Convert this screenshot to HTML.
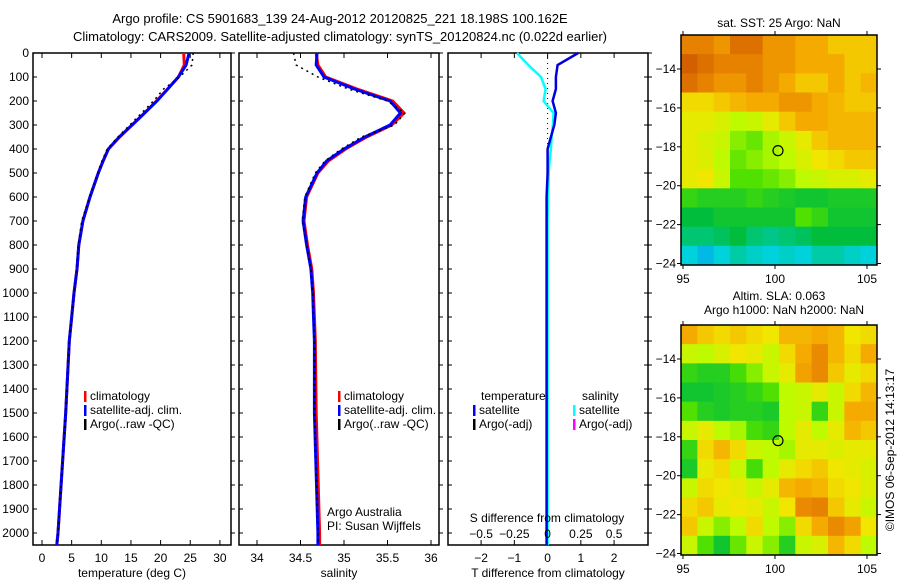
<!DOCTYPE html>
<html><head><meta charset="utf-8"><style>
body{margin:0;background:#fff}
svg{display:block;font-family:"Liberation Sans",sans-serif;font-size:12px}
</style></head><body>
<svg id="c" width="900" height="580" viewBox="0 0 900 580">
<text x="340" y="23" text-anchor="middle" font-size="13">Argo profile: CS 5901683_139 24-Aug-2012 20120825_221 18.198S 100.162E</text>
<text x="340" y="41" text-anchor="middle" font-size="13">Climatology: CARS2009. Satellite-adjusted climatology: synTS_20120824.nc (0.022d earlier)</text>
</svg>
<script>
const depths=[0,50,100,150,200,250,300,350,400,450,500,600,700,800,900,1000,1100,1200,1500,2000,2050];
const tempClim=[23.9,24.0,23.0,21.2,19.3,17.3,15.2,13.1,11.2,10.3,9.5,8.1,6.9,6.2,5.9,5.4,5.0,4.6,4.0,2.7,2.5];
const tempSat=[24.8,24.3,23.0,21.2,19.4,17.3,15.2,13.0,11.2,10.3,9.5,8.1,6.9,6.2,5.9,5.4,5.0,4.6,4.0,2.7,2.5];
const tempArgo=[25.5,25.3,23.2,20.5,18.8,16.8,14.8,12.8,11.0,10.1,9.4,8.0,6.7,6.1,5.9,5.4,5.0,4.6,4.0,2.7,2.5];
const salClim=[34.68,34.7,34.79,35.15,35.56,35.69,35.55,35.26,35.02,34.82,34.7,34.57,34.54,34.58,34.63,34.65,34.66,34.67,34.68,34.72,34.72];
const salSat=[34.69,34.68,34.77,35.12,35.53,35.65,35.53,35.24,35.0,34.8,34.69,34.56,34.53,34.57,34.62,34.64,34.65,34.66,34.66,34.7,34.7];
const salArgo=[34.42,34.45,34.7,35.05,35.5,35.7,35.58,35.2,34.97,34.78,34.67,34.55,34.52,34.57,34.62,34.64,34.65,34.66,34.66,34.7,34.7];
const tDiff=[0.92,0.3,0.25,0.25,0.15,0.25,0.2,0.1,0,0,0,-0.03,-0.03,-0.03,-0.03,-0.03,-0.03,-0.03,-0.03,-0.03,-0.03];
const sDiff=[-0.23,-0.145,-0.05,-0.015,-0.03,0.045,0.04,0.03,0.025,0.015,0.008,0.004,0,0,0,0,0,0,0,0,0];
const depthTicks=[0,100,200,300,400,500,600,700,800,900,1000,1100,1200,1300,1400,1500,1600,1700,1800,1900,2000];
const tempTicks=[0,5,10,15,20,25,30];
const salTicks=[34,34.5,35,35.5,36];
const tdTicks=[-2,-1,0,1,2];
const sdTicks=[-0.5,-0.25,0,0.25,0.5];
const latTicks=[-14,-16,-18,-20,-22,-24];
const lonTicks=[95,100,105];
const sstGrid=[
[.9,.9,.85,.95,.95,.85,.85,.8,.8,.75,.75,.75],
[1,.95,.9,.9,.9,.85,.85,.8,.8,.8,.75,.75],
[.95,.9,.85,.85,.9,.85,.8,.75,.75,.8,.75,.78],
[.72,.72,.75,.78,.8,.8,.85,.85,.8,.78,.75,.75],
[.68,.68,.65,.6,.62,.68,.75,.8,.8,.78,.78,.78],
[.68,.65,.62,.55,.52,.58,.62,.68,.75,.78,.78,.78],
[.68,.66,.6,.52,.55,.58,.6,.65,.7,.72,.75,.75],
[.68,.7,.62,.5,.5,.52,.55,.6,.62,.65,.65,.68],
[.45,.42,.42,.42,.45,.42,.4,.38,.38,.4,.4,.4],
[.35,.35,.38,.38,.38,.38,.38,.5,.45,.38,.38,.38],
[.3,.3,.32,.35,.3,.28,.3,.32,.35,.35,.35,.35],
[.2,.15,.2,.25,.22,.2,.22,.2,.25,.25,.22,.2]];
const slaGrid=[
[.8,.75,.72,.75,.72,.7,.78,.78,.8,.78,.7,.72],
[.62,.6,.65,.7,.68,.62,.72,.8,.88,.78,.72,.8],
[.45,.42,.42,.48,.55,.62,.68,.82,.88,.75,.68,.72],
[.38,.38,.4,.42,.45,.5,.6,.62,.68,.62,.72,.78],
[.5,.42,.4,.42,.42,.4,.6,.62,.45,.62,.8,.8],
[.62,.68,.6,.58,.48,.45,.6,.68,.6,.68,.78,.75],
[.45,.72,.78,.72,.62,.6,.58,.68,.68,.66,.68,.68],
[.4,.68,.72,.62,.48,.6,.68,.72,.75,.7,.68,.65],
[.62,.72,.7,.68,.62,.68,.78,.8,.78,.72,.7,.66],
[.72,.75,.68,.7,.68,.62,.7,.88,.9,.75,.68,.62],
[.75,.62,.55,.6,.72,.6,.55,.72,.8,.88,.82,.7],
[.62,.5,.38,.52,.62,.55,.42,.62,.65,.78,.72,.6]];

const svg=document.getElementById('c');const NS='http://www.w3.org/2000/svg';
function mk(t,a,txt){const e=document.createElementNS(NS,t);for(const k in a)e.setAttribute(k,a[k]);if(txt!==undefined)e.textContent=txt;svg.appendChild(e);return e;}
const Y=d=>53+d*0.24;
const TOP=53,BOT=545;
const panels=[
 {l:33,r:231,x:v=>42+v*5.93,ticks:tempTicks,label:'temperature (deg C)',name:'temperature'},
 {l:239,r:439,x:v=>257+(v-34)*87,ticks:salTicks,label:'salinity',name:'salinity'},
 {l:448,r:648,x:v=>547.6+v*33.25,ticks:tdTicks,label:'T difference from climatology',name:'difference'}];
panels.forEach((p,i)=>{
 let e=mk('rect',{x:p.l,y:TOP,width:p.r-p.l,height:BOT-TOP,fill:'none',stroke:'#000','stroke-width':1.5});
 
 depthTicks.forEach(d=>{mk('line',{x1:p.l,x2:p.l+4,y1:Y(d),y2:Y(d),stroke:'#000'});mk('line',{x1:p.r,x2:p.r+(i==2?-4:4),y1:Y(d),y2:Y(d),stroke:'#000'});
  if(i==0){e=mk('text',{x:29,y:Y(d)+4,'text-anchor':'end'},d);}});
 p.ticks.forEach(t=>{const x=p.x(t);mk('line',{x1:x,x2:x,y1:TOP,y2:TOP+5,stroke:'#000'});mk('line',{x1:x,x2:x,y1:BOT,y2:BOT-5,stroke:'#000'});
  e=mk('text',{x:x,y:562,'text-anchor':'middle'},String(t).replace('-','\u2212'));});
 e=mk('text',{x:(p.l+p.r)/2,y:577,'text-anchor':'middle'},p.label);
});
depthTicks.forEach(d=>mk('line',{x1:648,x2:652,y1:Y(d),y2:Y(d),stroke:'#000'}));
function line(vals,xf,color,w,dash,name){const pts=vals.map((v,i)=>xf(v).toFixed(1)+','+Y(depths[i]).toFixed(1)).join(' ');
 const a={points:pts,fill:'none',stroke:color,'stroke-width':w};if(dash)a['stroke-dasharray']=dash;const e=mk('polyline',a);
 }
const P=panels;
line(tempClim,P[0].x,'#f00',3,null,'temperature-climatology-line');
line(tempSat,P[0].x,'#00f',3,null,'temperature-satellite-line');
line(tempArgo,P[0].x,'#000',1.5,'2,4','temperature-argo-line');
line(salClim,P[1].x,'#f00',3,null,'salinity-climatology-line');
line(salSat,P[1].x,'#00f',3,null,'salinity-satellite-line');
line(salArgo,P[1].x,'#000',1.5,'2,4','salinity-argo-line');
mk('line',{x1:547.6,x2:547.6,y1:TOP,y2:BOT,stroke:'#000','stroke-dasharray':'1,4'});
line(sDiff,v=>P[2].x(v*4),'#0ff',2.5,null,'salinity-difference-line');
line(tDiff,P[2].x,'#00d',2.5,null,'temperature-difference-line');
let e=mk('text',{x:547,y:522,'text-anchor':'middle'},'S difference from climatology');
sdTicks.forEach(t=>{e=mk('text',{x:P[2].x(t*4),y:538,'text-anchor':'middle'},String(t).replace('-','\u2212'));});
function leg(x,y,c,txt,name){mk('rect',{x:x,y:y-9,width:2.5,height:11,fill:c});const t=mk('text',{x:x+6,y:y},txt);}
[[84,'temperature'],[338,'salinity']].forEach(([x,n])=>{leg(x,400,'#f00','climatology',n+'-legend-climatology');leg(x,414,'#00f','satellite-adj. clim.',n+'-legend-satellite');leg(x,428,'#000','Argo(..raw -QC)',n+'-legend-argo');});
e=mk('text',{x:481,y:400},'temperature');
e=mk('text',{x:582,y:400},'salinity');
leg(473,414,'#00f','satellite','legend-t-satellite');leg(473,428,'#000','Argo(-adj)','legend-t-argo');
leg(573,414,'#0ff','satellite','legend-s-satellite');leg(573,428,'#f0f','Argo(-adj)','legend-s-argo');
e=mk('text',{x:327,y:516},'Argo Australia');
e=mk('text',{x:327,y:530},'PI: Susan Wijffels');
const stops=[[0,[0,110,255]],[0.2,[0,210,220]],[0.35,[0,190,60]],[0.5,[80,225,0]],[0.6,[190,250,0]],[0.7,[240,230,0]],[0.8,[245,170,0]],[0.9,[230,130,0]],[1,[210,95,0]]];
function cmap(v){for(let i=1;i<stops.length;i++){if(v<=stops[i][0]){const a=stops[i-1],b=stops[i],f=(v-a[0])/(b[0]-a[0]);return 'rgb('+a[1].map((c,k)=>Math.round(c+(b[1][k]-c)*f)).join(',')+')';}}return 'rgb(210,95,0)';}
function map(grid,top,name,title){
 const L=681,R=877,B=top+230,lx=v=>683+(v-95)*18.4,ly=v=>top+34+(-v-14)*19.45;
 const nr=grid.length,nc=grid[0].length,cw=(R-L)/nc,ch=(B-top)/nr;
 grid.forEach((row,r)=>row.forEach((v,c)=>{const e=mk('rect',{x:L+c*cw,y:top+r*ch,width:cw+0.5,height:ch+0.5,fill:cmap(v)});}));
 let e=mk('rect',{x:L,y:top,width:R-L,height:B-top,fill:'none',stroke:'#000','stroke-width':1.5});
 latTicks.forEach(t=>{mk('line',{x1:L-4,x2:L,y1:ly(t),y2:ly(t),stroke:'#000'});mk('line',{x1:R,x2:R+4,y1:ly(t),y2:ly(t),stroke:'#000'});
  e=mk('text',{x:L-5,y:ly(t)+4,'text-anchor':'end'},String(t).replace('-','\u2212'));});
 lonTicks.forEach(t=>{mk('line',{x1:lx(t),x2:lx(t),y1:top-4,y2:top,stroke:'#000'});mk('line',{x1:lx(t),x2:lx(t),y1:B,y2:B+4,stroke:'#000'});
  e=mk('text',{x:lx(t),y:B+18,'text-anchor':'middle'},t);});
 e=mk('circle',{cx:lx(100.162),cy:ly(-18.198),r:5,fill:'none',stroke:'#000','stroke-width':1.2});
 if(title){e=mk('text',{x:779,y:top-8,'text-anchor':'middle'},title);}
}
map(sstGrid,35,'sst-map','sat. SST: 25 Argo: NaN');
map(slaGrid,325,'sla-map',null);
e=mk('text',{x:779,y:300,'text-anchor':'middle'},'Altim. SLA: 0.063');
e=mk('text',{x:784,y:314,'text-anchor':'middle'},'Argo h1000: NaN h2000: NaN');
e=mk('text',{x:894,y:450,'text-anchor':'middle',transform:'rotate(-90 894 450)'},'\u00a9IMOS 06-Sep-2012 14:13:17');
</script>
</body></html>
